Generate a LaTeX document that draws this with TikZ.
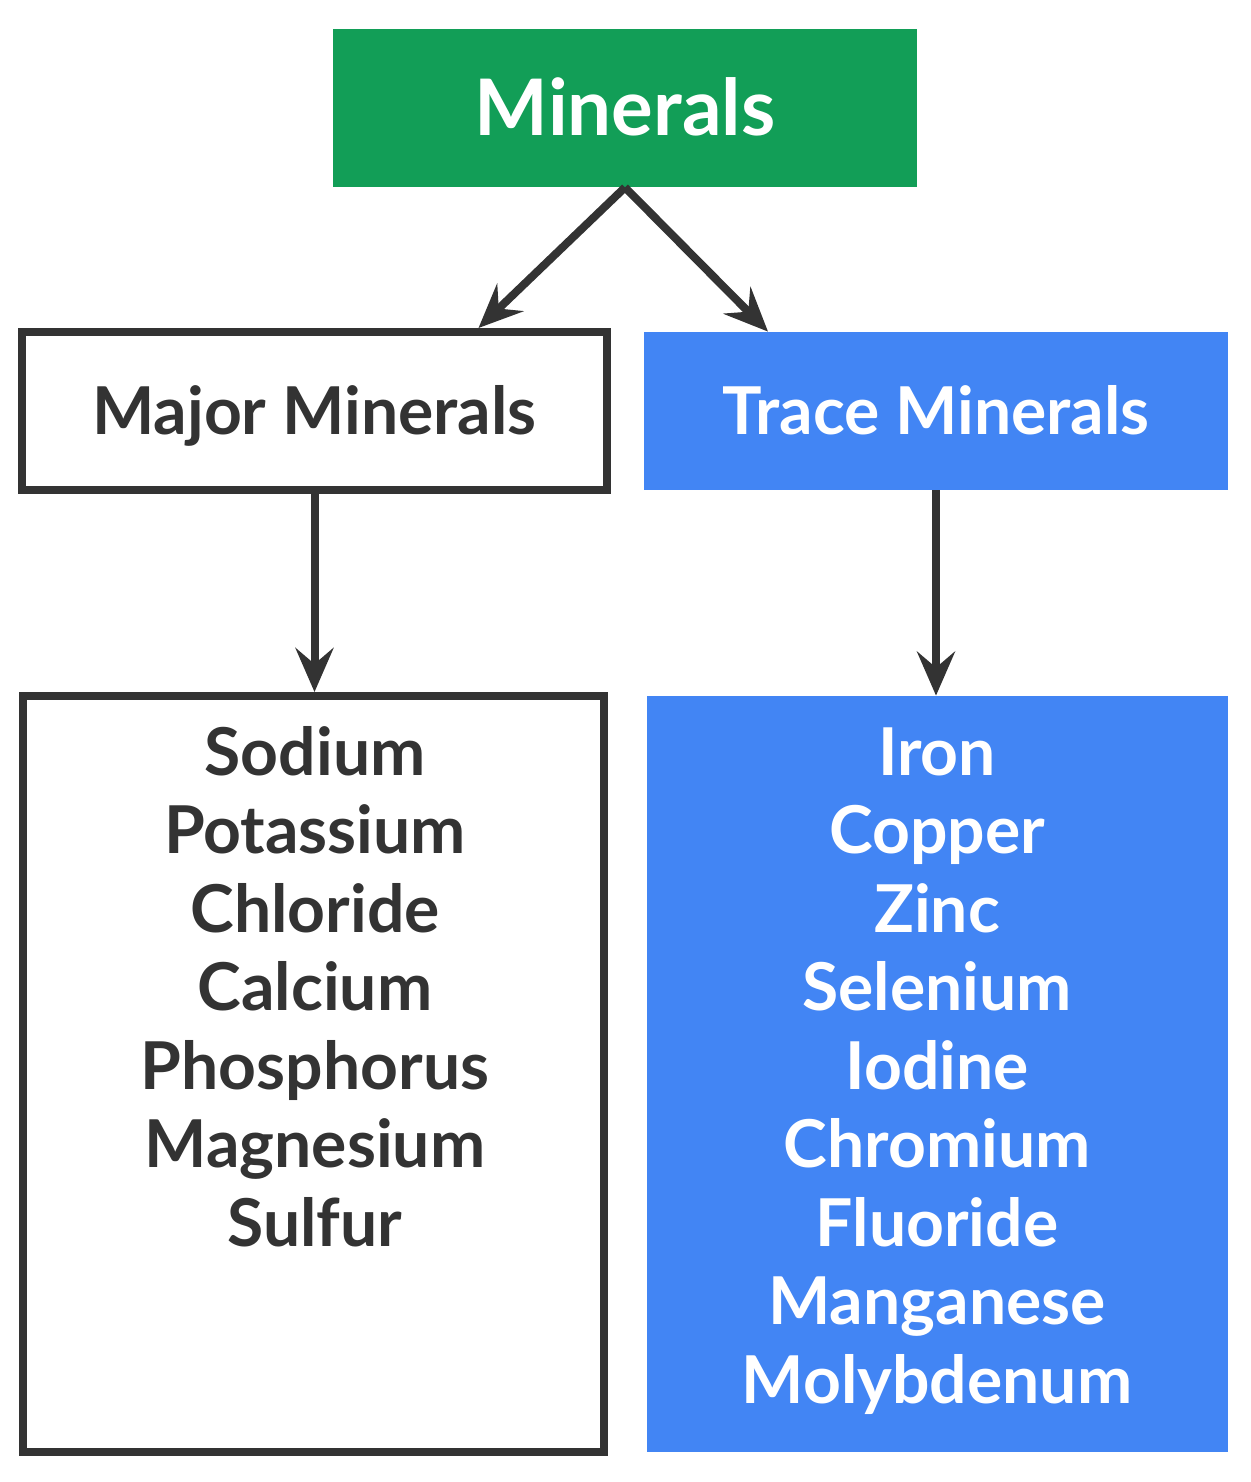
\documentclass[tikz,border=0pt]{standalone}
\usepackage{fontspec}
\setmainfont{Lato}
\usetikzlibrary{arrows.meta,positioning}

\definecolor{mingreen}{HTML}{129E57}
\definecolor{minblue}{HTML}{4285F4}
\definecolor{mindark}{HTML}{333333}

\tikzset{
  box/.style={rectangle, inner sep=0pt, text height=23.5pt, text depth=0pt,
    font=\bfseries\fontsize{33}{39.5}\selectfont},
  headbox/.style={box, fill=mingreen, text=white, minimum width=292pt, minimum height=79pt,
    text height=28pt, font=\bfseries\fontsize{39}{47}\selectfont},
  majorbox/.style={box, draw=mindark, line width=4pt, fill=white, text=mindark},
  tracebox/.style={box, fill=minblue, text=white},
  mineral/.style={anchor=base, inner sep=0pt, font=\bfseries\fontsize{33}{39.5}\selectfont},
  link/.style={draw=mindark, line width=4pt, -{Stealth[length=22pt, width=19pt, inset=8pt]}},
}

\begin{document}
\begin{tikzpicture}[x=0.5pt, y=-0.5pt]
    \useasboundingbox (0,0) rectangle (1251,1482);

    % Top
    \node[headbox] (minerals) at (625,108) {Minerals};

    % Groups
    \node[majorbox, minimum width=292.5pt, minimum height=79pt] (major) at (314.5,411) {Major Minerals};
    \node[tracebox, minimum width=292pt, minimum height=79pt] (trace) at (936,411) {Trace Minerals};

    % Lists
    \node[majorbox, minimum width=290.5pt, minimum height=378pt] (majlist) at (313.5,1074) {};
    \node[tracebox, minimum width=290.5pt, minimum height=378pt] (tracelist) at (937.5,1074) {};

    \foreach \mname [count=\i] in {Sodium,Potassium,Chloride,Calcium,Phosphorus,Magnesium,Sulfur}
        \node[mineral, text=mindark] (maj\i) at (315,{775+78.5*(\i-1)}) {\mname};
    \foreach \mname [count=\i] in {Iron,Copper,Zinc,Selenium,Iodine,Chromium,Fluoride,Manganese,Molybdenum}
        \node[mineral, text=white] (tr\i) at (937,{775+78.5*(\i-1)}) {\mname};

    % Connections
    \draw[link] (minerals.south) -- ([xshift=82pt]major.north);
    \draw[link] (minerals.south) -- ([xshift=-84pt]trace.north);
    \draw[link] (major.south) -- (major.south |- majlist.north);
    \draw[link] (trace.south) -- (trace.south |- tracelist.north);
\end{tikzpicture}
\end{document}
